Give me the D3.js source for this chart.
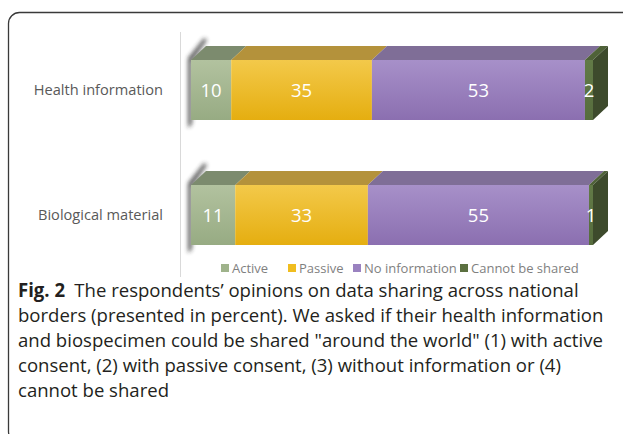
<!DOCTYPE html>
<html>
<head>
<meta charset="utf-8">
<script src="https://cdn.jsdelivr.net/npm/d3@7"></script>
<style>
  html, body { margin: 0; padding: 0; background: #fff; }
  svg { display: block; }
</style>
</head>
<body>
<div id="chart"></div>
<script>
// data (percent)
const categories = ['Health information', 'Biological material'];
const seriesNames = ['Active', 'Passive', 'No information', 'Cannot be shared'];
const active = [10, 11];
const passive = [35, 33];
const noInformation = [53, 55];
const cannotBeShared = [2, 1];

const captionLines = [
  'The respondents\u2019 opinions on data sharing across national',
  'borders (presented in percent). We asked if their health information',
  'and biospecimen could be shared "around the world" (1) with active',
  'consent, (2) with passive consent, (3) without information or (4)',
  'cannot be shared'
];

const W = 623, H = 434;

// colours per series: front gradient top/bottom, top face, side face
const palette = [
  { top: '#b2c29f', bot: '#97ab83', lid: '#7c8b6e', side: '#6a7a5c', key: '#9fb38b' },
  { top: '#f3c94a', bot: '#e5ae10', lid: '#b4923b', side: '#9d7a20', key: '#f0bd1f' },
  { top: '#a790c9', bot: '#8b6fb0', lid: '#7f6e97', side: '#6b5886', key: '#9a82c0' },
  { top: '#627a47', bot: '#566c3d', lid: '#4f6238', side: '#3d4a2c', key: '#5b7040' }
];

const svg = d3.select('#chart').append('svg')
  .attr('width', W)
  .attr('height', H);

const defs = svg.append('defs');
palette.forEach((p, i) => {
  const g = defs.append('linearGradient')
    .attr('id', 'front' + i)
    .attr('x1', 0).attr('y1', 0).attr('x2', 0).attr('y2', 1);
  g.append('stop').attr('offset', '0%').attr('stop-color', p.top);
  g.append('stop').attr('offset', '100%').attr('stop-color', p.bot);
});
defs.append('filter').attr('id', 'blur')
  .attr('x', '-200%').attr('y', '-50%').attr('width', '500%').attr('height', '200%')
  .append('feGaussianBlur').attr('stdDeviation', 2.2);

// frame with rounded corners, right side runs off the picture
svg.append('rect')
  .attr('x', 8.5).attr('y', 12.5)
  .attr('width', 700).attr('height', 430)
  .attr('rx', 11)
  .attr('fill', 'none')
  .attr('stroke', '#3a3a3a')
  .attr('stroke-width', 1.3);

// scales
const x = d3.scaleLinear().domain([0, 100]).range([191, 593]);
const y = d3.scaleBand().domain(categories)
  .range([27.5, 277.5])
  .paddingInner(0.52)
  .paddingOuter(0.26);

const depthX = 15, depthY = 14;

// category axis line
svg.append('line')
  .attr('x1', 180.5).attr('x2', 180.5)
  .attr('y1', 32).attr('y2', 277)
  .attr('stroke', '#d9d9d9')
  .attr('stroke-width', 1);

// category labels
svg.append('g').selectAll('text')
  .data(categories)
  .join('text')
  .attr('x', 163)
  .attr('y', d => y(d) + y.bandwidth() / 2)
  .attr('dy', '0.35em')
  .attr('text-anchor', 'end')
  .attr('font-family', '"Open Sans", sans-serif')
  .attr('font-size', 14.6)
  .attr('fill', '#595959')
  .text(d => d);

// stack the series
const rows = categories.map((c, i) => ({
  cat: c,
  'Active': active[i],
  'Passive': passive[i],
  'No information': noInformation[i],
  'Cannot be shared': cannotBeShared[i]
}));
const stacked = d3.stack().keys(seriesNames)(rows);

const bars = svg.append('g');

rows.forEach((row, ri) => {
  const y0 = y(row.cat), y1 = y0 + y.bandwidth();
  const xStart = x(0);

  // shadow streak at the left edge of the box
  bars.append('path')
    .attr('d', `M${xStart - 3},${y1 + 8} L${xStart - 3},${y0 - 2} L${xStart + depthX - 2},${y0 - depthY - 8} L${xStart + depthX + 1},${y0 - depthY - 6} L${xStart + 1},${y0 + 2} L${xStart + 1},${y1 + 4} Z`)
    .attr('fill', '#2b2b2b')
    .attr('opacity', 0.75)
    .attr('filter', 'url(#blur)');

  const g = bars.append('g');
  stacked.forEach((s, si) => {
    const a = x(s[ri][0]), b = x(s[ri][1]);
    const p = palette[si];
    // top face
    g.append('path')
      .attr('d', `M${a},${y0} L${a + depthX},${y0 - depthY} L${b + depthX},${y0 - depthY} L${b},${y0} Z`)
      .attr('fill', p.lid);
    // front face
    g.append('rect')
      .attr('x', a).attr('y', y0)
      .attr('width', b - a).attr('height', y1 - y0)
      .attr('fill', `url(#front${si})`);
  });
  // right side face of the last segment
  const xe = x(100);
  g.append('path')
    .attr('d', `M${xe},${y0} L${xe + depthX},${y0 - depthY} L${xe + depthX},${y1 - depthY} L${xe},${y1} Z`)
    .attr('fill', palette[3].side);

  // value labels
  stacked.forEach((s, si) => {
    const a = x(s[ri][0]), b = x(s[ri][1]);
    g.append('text')
      .attr('x', (a + b) / 2)
      .attr('y', (y0 + y1) / 2)
      .attr('dy', '0.36em')
      .attr('text-anchor', 'middle')
      .attr('font-family', '"Open Sans", sans-serif')
      .attr('font-size', 18.5)
      .attr('fill', '#ffffff')
      .text(s[ri].data[s.key]);
  });
});

// legend
const legendX = [221, 288, 353, 460];
const legend = svg.append('g').selectAll('g')
  .data(seriesNames)
  .join('g')
  .attr('transform', (d, i) => `translate(${legendX[i]},268)`);
legend.append('rect')
  .attr('x', 0).attr('y', -4)
  .attr('width', 8).attr('height', 8)
  .attr('fill', (d, i) => palette[i].key);
legend.append('text')
  .attr('x', 11)
  .attr('dy', '0.35em')
  .attr('font-family', '"Open Sans", sans-serif')
  .attr('font-size', 13)
  .attr('fill', '#7f7f7f')
  .text(d => d);

// caption: one common squeeze so the longest line matches the figure
const caption = svg.append('g');
const captionTexts = captionLines.map((line, i) => {
  const t = caption.append('text')
    .attr('y', 297 + i * 25)
    .attr('font-family', '"Open Sans", sans-serif')
    .attr('font-size', 19)
    .attr('fill', '#231f20');
  if (i === 0) {
    t.append('tspan').attr('font-weight', 'bold').text('Fig. 2');
    t.append('tspan').text('\u2002' + line);
  } else {
    t.text(line);
  }
  return t;
});
const k = 586 / captionTexts[1].node().getComputedTextLength();
captionTexts.forEach(t => t.attr('transform', `translate(18,0) scale(${k},1)`));
</script>
</body>
</html>
